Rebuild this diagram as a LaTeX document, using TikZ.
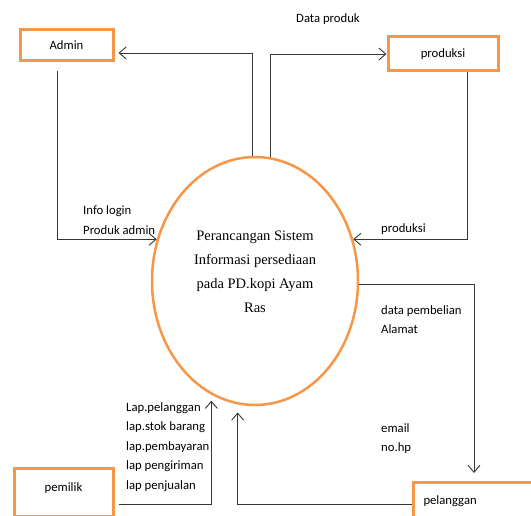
\documentclass[tikz,border=0pt]{standalone}
\usepackage{fontspec}
\setmainfont{Carlito}
\newfontfamily\timesf{Liberation Serif}
\usepackage{tikz}
\usetikzlibrary{calc,arrows.meta,shapes.geometric}
\definecolor{oranye}{RGB}{247,150,70}
\definecolor{garis}{RGB}{55,55,55}

\begin{document}
\begin{tikzpicture}[x=1pt,y=-1pt,
    entitas/.style={draw=oranye,line width=3pt,inner sep=0pt},
    alur/.style={draw=garis,line width=0.9pt,-{Straight Barb[length=7pt,width=12pt]}},
    ket/.style={anchor=west,align=left,inner sep=0pt,font=\fontsize{12.7}{19.5}\selectfont}]
                      \useasboundingbox (0,0) rectangle (531,516);
                      \node[draw=oranye,line width=2.5pt,ellipse,minimum width=206pt,minimum height=248pt,inner sep=0pt,align=center,text depth=18pt,font=\timesf\fontsize{14.5}{24}\selectfont](sistem)at(255,281){Perancangan Sistem\\Informasi persediaan\\pada PD.kopi Ayam\\Ras};
                      \node[entitas,minimum width=93pt,minimum height=31pt,font=\fontsize{12.7}{15}\selectfont](admin)at(66.5,45.5){Admin};
                      \node[entitas,minimum width=110pt,minimum height=34pt,font=\fontsize{12.7}{15}\selectfont](produksi)at(443,54){produksi};
                      \node[entitas,minimum width=99pt,minimum height=48pt,text depth=10pt,font=\fontsize{12.7}{15}\selectfont](pemilik)at(63.5,492){pemilik};
                      \node[entitas,anchor=north west,minimum height=44pt,text width=115pt,inner xsep=10pt,align=left,text depth=8pt,font=\fontsize{12.7}{15}\selectfont](pelanggan)at(412,481){pelanggan};
                      % label alur
                      \node[ket](l1)at(296,19){Data produk};
                      \node[ket](l2)at(83,220){Info login\\Produk admin};
                      \node[ket](l3)at(381,229){produksi};
                      \node[ket](l4)at(381,319.5){data pembelian\\Alamat};
                      \node[ket](l5)at(381,438.5){email\\no.hp};
                      \node[ket](l6)at(126,447){Lap.pelanggan\\lap.stok barang\\lap.pembayaran\\lap pengiriman\\lap penjualan};
                      % alur data
                      \draw[alur](sistem.91)|-($(admin.east)+(4,7.5)$);
                      \draw[alur](sistem.83)|-(produksi.west);
                      \draw[alur]($(admin.south)+(-9.5,9)$)|-(sistem.157);
                      \draw[alur]($(produksi.south)+(24,0)$)|-(sistem.23);
                      \draw[alur,shorten >=8pt](sistem.-2)-|($(pelanggan.north west)+(62,0)$);
                      \draw[alur,shorten >=8pt](pelanggan.west)-|(sistem.262);
                      \draw[alur,shorten >=6pt]($(pemilik.east)+(4,12)$)-|(sistem.249);
                  \end{tikzpicture}
\end{document}
